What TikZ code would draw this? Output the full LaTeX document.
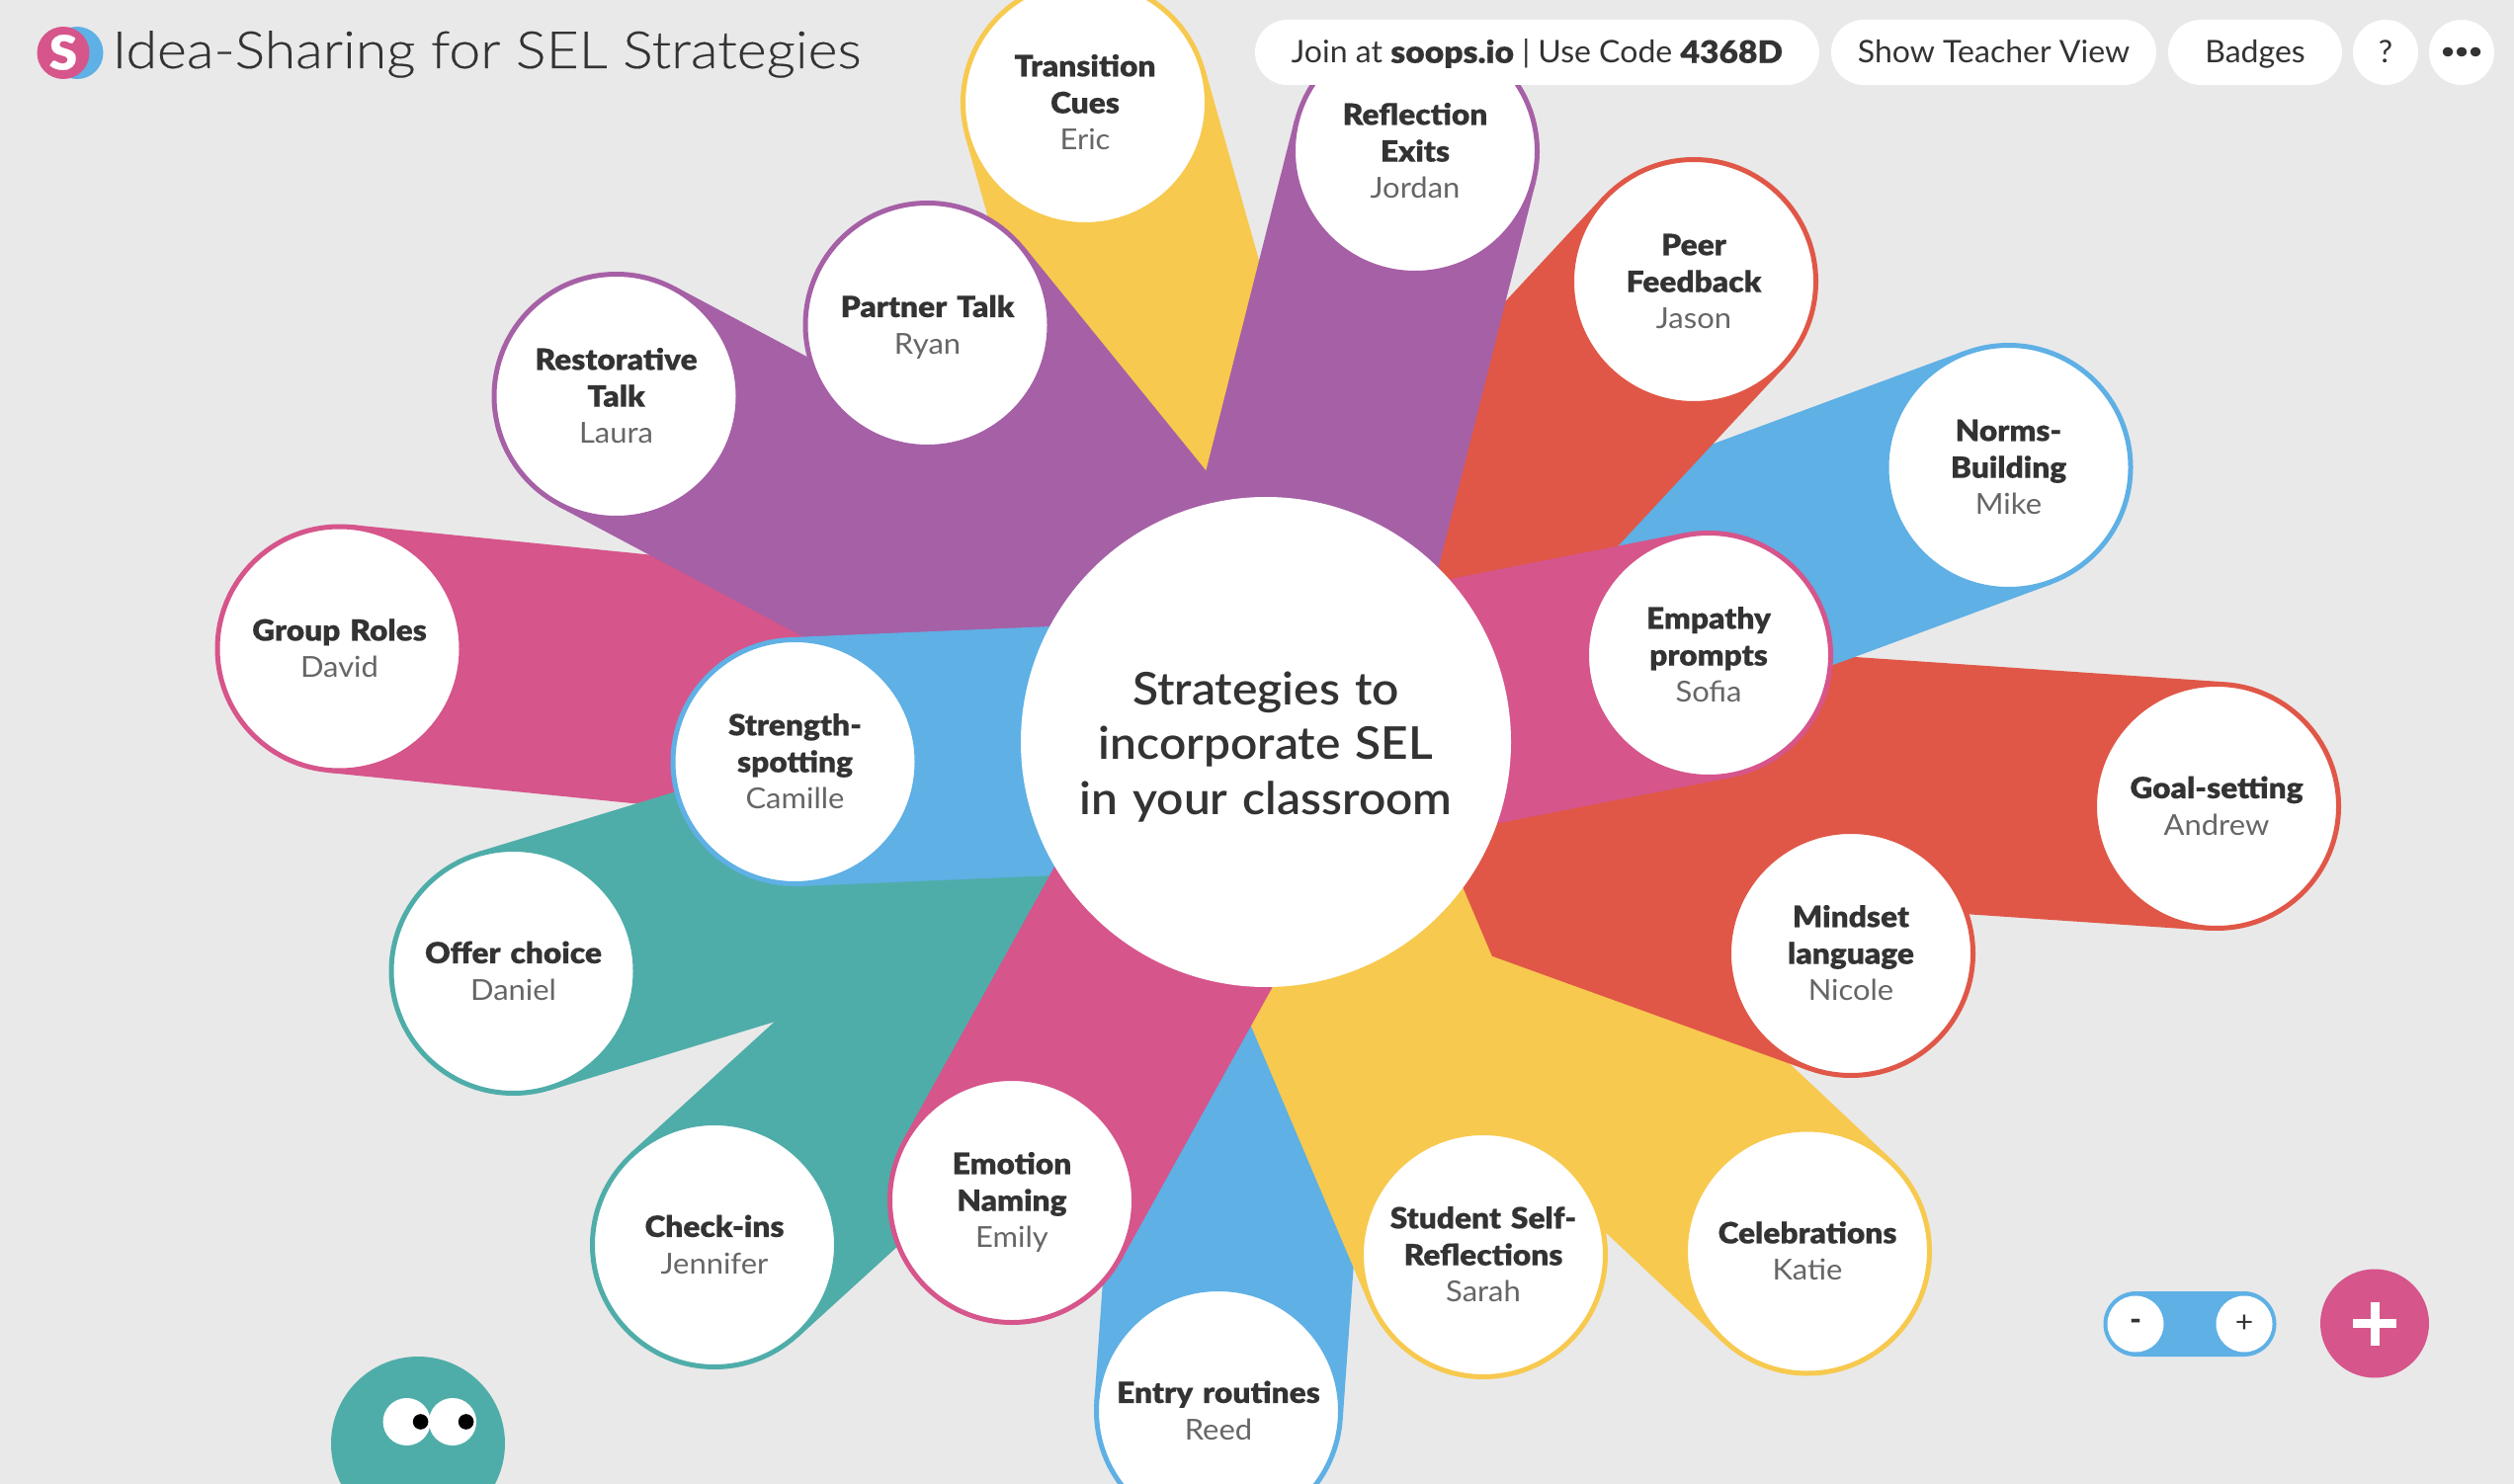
\documentclass[tikz,border=0pt]{standalone}
\usepackage{fontspec}
\setmainfont{Lato}[FakeStretch=1.02]
\newfontfamily\flight{Lato}[FakeStretch=1.06]
\newfontfamily\ftitle{Lato Light}[FakeStretch=1.10,FakeBold=0.3]
\newfontfamily\fblack{Lato Black}[FakeStretch=1.07,FakeBold=0.4]
\newfontfamily\fmed{Lato Semibold}[FakeStretch=1.05]
\definecolor{bgc}{HTML}{E9E9E9}
\definecolor{purp}{HTML}{A660A6}
\definecolor{yel}{HTML}{F7C94E}
\definecolor{redc}{HTML}{E05747}
\definecolor{blu}{HTML}{5EB0E5}
\definecolor{pnk}{HTML}{D6558B}
\definecolor{tea}{HTML}{4FADA9}
\definecolor{ink}{HTML}{333333}
\definecolor{nam}{HTML}{666666}
\pgfdeclarelayer{b1}\pgfdeclarelayer{n1}\pgfdeclarelayer{b2}\pgfdeclarelayer{n2}
\pgfdeclarelayer{b3}\pgfdeclarelayer{n3}\pgfdeclarelayer{b4}\pgfdeclarelayer{n4}
\pgfdeclarelayer{b5}\pgfdeclarelayer{n5}\pgfdeclarelayer{b6}\pgfdeclarelayer{n6}
\pgfdeclarelayer{b7}\pgfdeclarelayer{n7}\pgfdeclarelayer{b8}\pgfdeclarelayer{n8}
\pgfdeclarelayer{b9}\pgfdeclarelayer{n9}\pgfdeclarelayer{b10}\pgfdeclarelayer{n10}
\pgfdeclarelayer{b11}\pgfdeclarelayer{n11}\pgfdeclarelayer{b12}\pgfdeclarelayer{n12}
\pgfdeclarelayer{b13}\pgfdeclarelayer{n13}\pgfdeclarelayer{b14}\pgfdeclarelayer{n14}
\pgfdeclarelayer{b15}\pgfdeclarelayer{n15}\pgfdeclarelayer{b16}\pgfdeclarelayer{n16}
\pgfdeclarelayer{b17}\pgfdeclarelayer{n17}\pgfdeclarelayer{top}
\pgfsetlayers{main,b1,n1,b2,n2,b3,n3,b4,n4,b5,n5,b6,n6,b7,n7,b8,n8,b9,n9,b10,n10,b11,n11,b12,n12,b13,n13,b14,n14,b15,n15,b16,n16,b17,n17,top}
\newcommand\tstrutA{\rule{0pt}{14.6pt}}
\newcommand\tstrutB{\rule[-4pt]{0pt}{4pt}}
\tikzset{
  band/.style={line width=126pt,line cap=butt},
  idea/.style={circle,fill=white,line width=2.5pt,minimum size=123.5pt,inner sep=0pt,
    text width=108pt,align=center,text=ink,font=\fontsize{14.8}{18.65}\selectfont},
  hubnode/.style={circle,fill=white,minimum size=248pt,inner sep=0pt},
  pill/.style={fill=white,rounded corners=16.5pt,minimum height=33pt,inner sep=0pt,text=ink,
    text height=12.6pt,text depth=1.9pt,font=\fontsize{15.7}{18}\selectfont},
  disc/.style={circle,inner sep=0pt,draw=none}
}
\newcommand\idea[7]{%
  \begin{pgfonlayer}{n#1}
    \node[idea,draw=#5] (#2) at (#3,#4) {\tstrutA{\fblack #6\par}{\flight\fontsize{14.6}{18.65}\selectfont\color{nam}#7\tstrutB\par}};
  \end{pgfonlayer}
  \begin{pgfonlayer}{b#1}
    \draw[band,draw=#5] (#2.center) -- (hub.center);
  \end{pgfonlayer}}
\begin{document}
\begin{tikzpicture}[x=0.5pt,y=-0.5pt]
\useasboundingbox (0,0) rectangle (2544,1502);
\clip (0,0) rectangle (2544,1502);
\fill[bgc] (0,0) rectangle (2544,1502);
\begin{pgfonlayer}{top}
  \node[hubnode] (hub) at (1281,751) {};
  \node[text=ink,text width=205pt,align=center,inner sep=0pt,font=\fmed\fontsize{22.8}{27.8}\selectfont] (hublabel) at (1281,756) {Strategies to\\incorporate SEL\\in your classroom};
\end{pgfonlayer}
\idea{1}{goal}{2243}{816}{redc}{Goal-setting}{Andrew}
\idea{2}{norms}{2032.5}{473}{blu}{Norms-\\Building}{Mike}
\idea{3}{peer}{1714}{285}{redc}{Peer\\Feedback}{Jason}
\idea{4}{celeb}{1829}{1266.5}{yel}{Celebrations}{Katie}
\idea{5}{mindset}{1873}{965}{redc}{Mindset\\language}{Nicole}
\idea{6}{entry}{1233}{1428}{blu}{Entry routines}{Reed}
\idea{7}{student}{1501}{1270}{yel}{Student Self-\\Reflections}{Sarah}
\idea{8}{checkins}{723}{1260}{tea}{Check-ins}{Jennifer}
\idea{9}{group}{343.5}{656.5}{pnk}{Group Roles}{David}
\idea{10}{offer}{519.5}{983}{tea}{Offer choice}{Daniel}
\idea{11}{restor}{623.5}{401}{purp}{Restorative\\Talk}{Laura}
\idea{12}{trans}{1098}{104}{yel}{Transition\\Cues}{Eric}
\idea{13}{partner}{938.5}{329}{purp}{Partner Talk}{Ryan}
\idea{14}{reflect}{1432}{153}{purp}{Reflection\\Exits}{Jordan}
\idea{15}{strength}{804.5}{771}{blu}{Strength-\\spotting}{Camille}
\idea{16}{emotion}{1024}{1215}{pnk}{Emotion\\Naming}{Emily}
\idea{17}{empathy}{1729}{663}{pnk}{Empathy\\prompts}{Sofia}
\begin{pgfonlayer}{top}
  % header
  \node[disc,fill=blu,minimum size=26.5pt] (logob) at (78,53.5) {};
  \node[disc,fill=pnk,minimum size=26.5pt] (logop) at (64,53.5) {};
  \node[text=white,inner sep=0pt,font=\fblack\fontsize{24}{24}\selectfont] (logos) at (64,53) {S};
  \node[anchor=base west,inner sep=0pt,text=ink,font=\ftitle\fontsize{26}{30}\selectfont] (title) at (113,69) {Idea-Sharing for SEL Strategies};
  \node[pill,minimum width=285.5pt] (join) at (1555.5,53) {Join at {\fblack soops.io} | Use Code {\fblack 4368D}};
  \node[pill,minimum width=164.5pt] (teacher) at (2017.5,53) {Show Teacher View};
  \node[pill,minimum width=88pt] (badges) at (2282,53) {Badges};
  \node[pill,minimum width=33pt] (help) at (2414,53) {?};
  \node[fill=white,rounded corners=16.5pt,minimum height=33pt,minimum width=33pt,inner sep=0pt,text=ink,font=\fblack\fontsize{9.5}{10}\selectfont] (more) at (2491,53) {\makebox[7pt]{•}\makebox[7pt]{•}\makebox[7pt]{•}};
  % mascot
  \node[disc,fill=tea,minimum size=88pt] (mascot) at (423,1461) {};
  \node[disc,fill=white,minimum size=24pt] (eyel) at (411.6,1439) {};
  \node[disc,fill=white,minimum size=24pt] (eyer) at (458,1439) {};
  \node[disc,fill=black,minimum size=7.8pt] (pupl) at (425.6,1439) {};
  \node[disc,fill=black,minimum size=7.8pt] (pupr) at (471.6,1439) {};
  % zoom control
  \node[fill=blu,rounded corners=16.5pt,minimum width=87.5pt,minimum height=33pt,inner sep=0pt] (zoombar) at (2216,1340) {};
  \node[disc,fill=white,minimum size=28.5pt,text=ink,font=\fblack\fontsize{14}{14}\selectfont] (zminus) at (2161,1340) {-};
  \node[disc,fill=white,minimum size=28.5pt,text=ink,font=\flight\fontsize{15}{15}\selectfont] (zplus) at (2271,1340) {+};
  \node[disc,fill=pnk,minimum size=55pt] (addbtn) at (2403,1339.5) {};
  \fill[white] (2381,1335) rectangle (2425,1344);
  \fill[white] (2398.5,1317.5) rectangle (2407.5,1361.5);
\end{pgfonlayer}
\end{tikzpicture}
\end{document}
